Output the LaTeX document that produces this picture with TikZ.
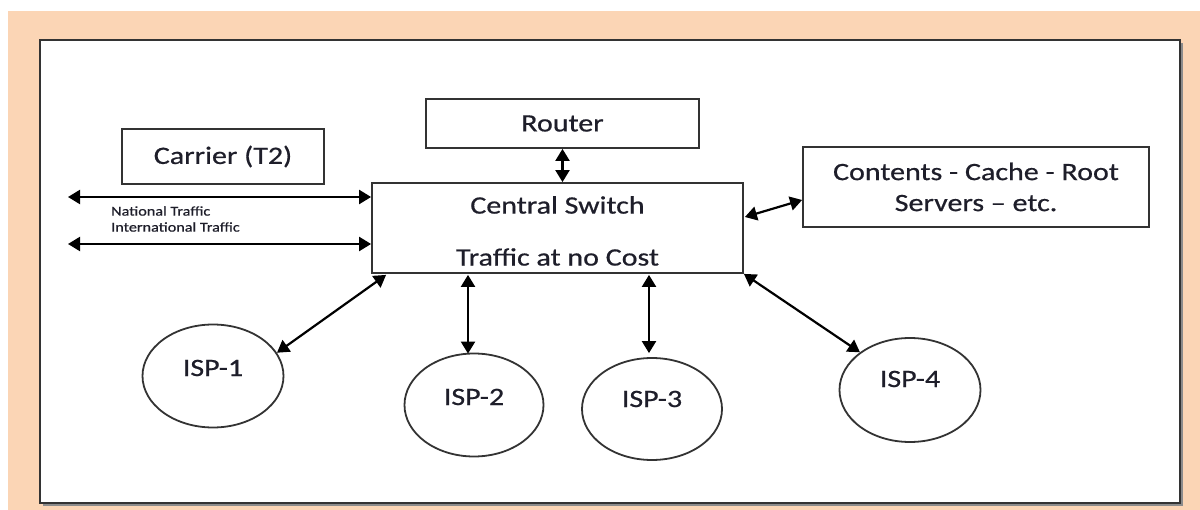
\documentclass[tikz,border=0pt]{standalone}
\usepackage{fontspec}
\setmainfont{Carlito}[FakeStretch=1.2,FakeBold=0.6]
\usetikzlibrary{arrows.meta,shapes.geometric,calc}
\definecolor{peach}{HTML}{FBD5B5}
\definecolor{txt}{HTML}{1E1E2A}
\definecolor{edge}{HTML}{333333}
\begin{document}
\begin{tikzpicture}[x=1pt,y=-1pt,
  box/.style={draw=edge,line width=1.8pt,fill=white,rectangle,inner sep=0pt,
    text=txt,font=\fontsize{25}{31}\selectfont,align=center},
  isp/.style={draw=edge,line width=1.8pt,fill=white,ellipse,inner sep=0pt},
  lbl/.style={text=txt,font=\fontsize{25}{31}\selectfont,inner sep=0pt},
  small/.style={text=txt,font=\fontsize{13.5}{16}\selectfont,inner sep=0pt,anchor=west},
  arr/.style={line width=2.2pt,black,>={Triangle[length=12pt,width=14pt]},<->}]
\useasboundingbox (0,0) rectangle (1200,510);
\fill[white] (0,0) rectangle (1200,510);
\fill[peach] (8,11) rectangle (1200,510);
\fill[black!45] (43,43) rectangle (1183,506);
\draw[draw=edge,line width=1.8pt,fill=white] (40,40) rectangle (1180,503);

\node[box,minimum width=202pt,minimum height=55pt] (carrier) at (223,156.5) {Carrier (T2)};
\node[box,minimum width=273pt,minimum height=49pt] (router) at (562.5,123.5) {Router};
\node[box,minimum width=371pt,minimum height=90pt] (switch) at (557.5,228) {};
\node[lbl] (cs) at (557.5,205) {Central Switch};
\node[lbl] (tc) at (557.5,257) {Traffic at no Cost};
\node[box,minimum width=346pt,minimum height=80pt] (contents) at (976,187) {Contents - Cache - Root\\Servers -- etc.};

\node[small] (nat) at (111,211) {National Traffic};
\node[small] (intl) at (111,227) {International Traffic};

\node[isp,minimum width=141pt,minimum height=103pt] (isp1) at (213,376) {};
\node[isp,minimum width=139pt,minimum height=103pt] (isp2) at (474,405) {};
\node[isp,minimum width=140pt,minimum height=102pt] (isp3) at (652,409) {};
\node[isp,minimum width=141pt,minimum height=104pt] (isp4) at (910,390) {};
\node[lbl] (t1) at ($(isp1.center)+(0,-8)$) {ISP-1};
\node[lbl] (t2) at ($(isp2.center)+(0,-8)$) {ISP-2};
\node[lbl] (t3) at ($(isp3.center)+(0,-10)$) {ISP-3};
\node[lbl] (t4) at ($(isp4.center)+(0,-11)$) {ISP-4};

\coordinate (lt) at (68,197);
\coordinate (lb) at (68,244);
\draw[arr] (lt) -- (lt -| switch.west);
\draw[arr] (lb) -- (lb -| switch.west);
\draw[arr] (router.south) -- (router.south |- switch.north);
\draw[arr] ($(switch.east)+(1,-11)$) -- ($(contents.west)+(0,13)$);
\draw[arr] (isp1.20) -- ($(switch.south west)+(15,1)$);
\draw[arr] ($(isp2.north)+(-6,1)$) -- ($(switch.south)+(-89.5,1)$);
\draw[arr] ($(isp3.north)+(-3,-4)$) -- ($(switch.south)+(91.5,1)$);
\draw[arr] (isp4.143) -- ($(switch.south east)+(0,0)$);
\end{tikzpicture}
\end{document}
